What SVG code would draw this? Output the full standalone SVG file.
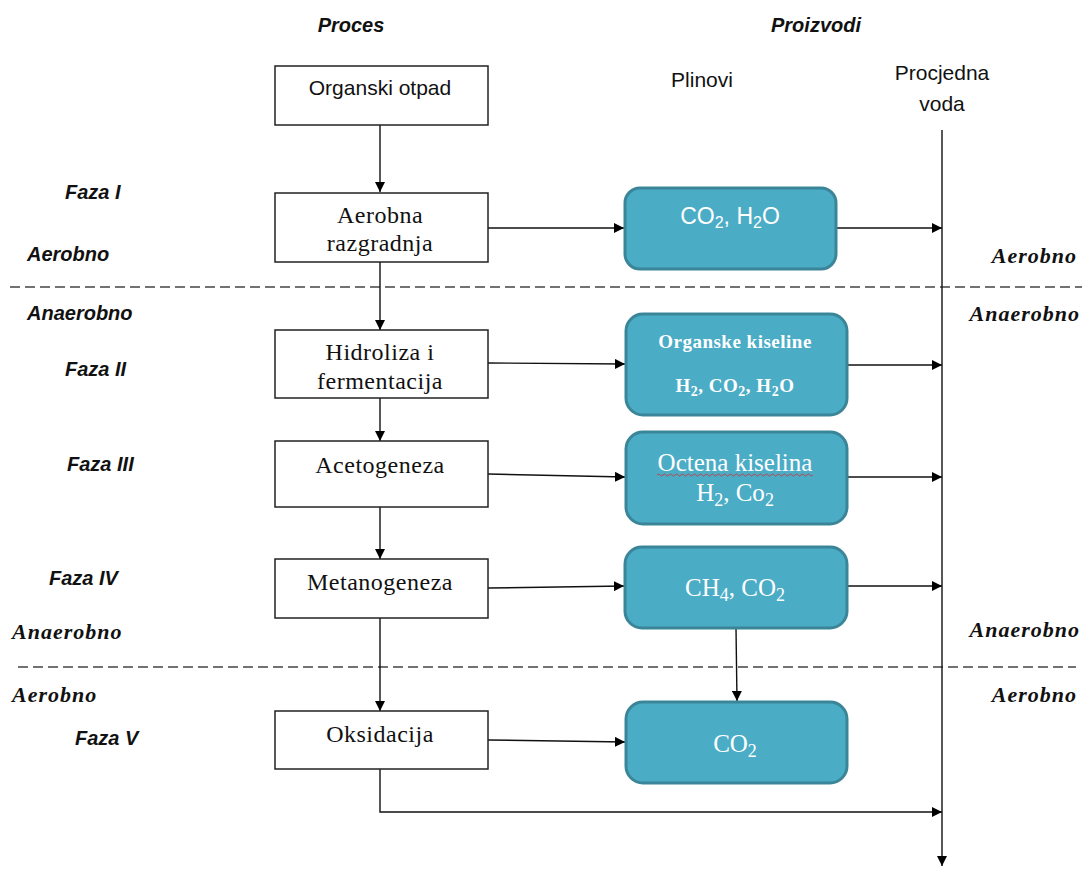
<svg xmlns="http://www.w3.org/2000/svg" width="1082" height="869" viewBox="0 0 1082 869">
<defs>
<marker id="ah" viewBox="0 0 10 10" refX="10" refY="5" markerWidth="10" markerHeight="10" markerUnits="userSpaceOnUse" orient="auto">
<path d="M0,0 L10,5 L0,10 z" fill="#000"/>
</marker>
<style>
.pbox{fill:#fff;stroke:#222;stroke-width:1.5}
.gbox{fill:#4BACC6;stroke:#3b8598;stroke-width:3}
.conn{fill:none;stroke:#111;stroke-width:1.4}
.dash{fill:none;stroke:#444;stroke-width:1.6;stroke-dasharray:10 5}
.hdr{font-family:"Liberation Sans",Arial,sans-serif;font-weight:bold;font-style:italic;font-size:20px;fill:#111}
.lbl{font-family:"Liberation Sans",Arial,sans-serif;font-weight:bold;font-style:italic;font-size:20px;fill:#111}
.slbl{font-family:"Liberation Serif","Times New Roman",serif;font-weight:bold;font-style:italic;font-size:22px;fill:#111;letter-spacing:1px}
.sans{font-family:"Liberation Sans",Arial,sans-serif;font-size:21px;fill:#111}
.ser{font-family:"Liberation Serif","Times New Roman",serif;font-size:24px;fill:#111;letter-spacing:0.5px}
.wt{font-family:"Liberation Serif","Times New Roman",serif;font-size:25px;fill:#fff}
.wtb{font-family:"Liberation Serif","Times New Roman",serif;font-size:19px;font-weight:bold;fill:#fff;letter-spacing:0.5px}
.wts{font-family:"Liberation Sans",Arial,sans-serif;font-size:23px;fill:#fff}
</style>
</defs>
<rect width="1082" height="869" fill="#fff"/>

<g id="headers">
<text class="hdr" x="351" y="32" text-anchor="middle">Proces</text>
<text class="hdr" x="816" y="32" text-anchor="middle">Proizvodi</text>
<text class="sans" x="702" y="87" text-anchor="middle">Plinovi</text>
<text class="sans" x="942" y="80" text-anchor="middle">Procjedna</text>
<text class="sans" x="942" y="111" text-anchor="middle">voda</text>
</g>

<g id="side-labels">
<text class="lbl" x="65" y="199">Faza I</text>
<text class="lbl" x="27" y="261">Aerobno</text>
<text class="lbl" x="27" y="320">Anaerobno</text>
<text class="lbl" x="65" y="376">Faza II</text>
<text class="lbl" x="67" y="471">Faza III</text>
<text class="lbl" x="49" y="585">Faza IV</text>
<text class="slbl" x="12" y="639">Anaerobno</text>
<text class="slbl" x="12" y="702">Aerobno</text>
<text class="lbl" x="75" y="745">Faza V</text>
<text class="slbl" x="1077" y="263" text-anchor="end">Aerobno</text>
<text class="slbl" x="1080" y="321" text-anchor="end">Anaerobno</text>
<text class="slbl" x="1080" y="637" text-anchor="end">Anaerobno</text>
<text class="slbl" x="1077" y="702" text-anchor="end">Aerobno</text>
</g>

<g id="dividers">
<line class="dash" x1="10" y1="287" x2="1082" y2="287"/>
<line class="dash" x1="18" y1="667" x2="1076" y2="667"/>
</g>

<g id="connectors">
<line class="conn" x1="380" y1="125" x2="380" y2="192" marker-end="url(#ah)"/>
<line class="conn" x1="380" y1="262" x2="380" y2="330" marker-end="url(#ah)"/>
<line class="conn" x1="380" y1="398" x2="380" y2="441" marker-end="url(#ah)"/>
<line class="conn" x1="380" y1="507" x2="380" y2="559" marker-end="url(#ah)"/>
<line class="conn" x1="380" y1="618" x2="380" y2="711" marker-end="url(#ah)"/>
<polyline class="conn" points="380,769 380,812 942,812" marker-end="url(#ah)"/>
<line class="conn" x1="488" y1="228" x2="624" y2="228" marker-end="url(#ah)"/>
<line class="conn" x1="836" y1="228" x2="942" y2="228" marker-end="url(#ah)"/>
<line class="conn" x1="488" y1="363" x2="625" y2="364" marker-end="url(#ah)"/>
<line class="conn" x1="847" y1="365" x2="942" y2="365" marker-end="url(#ah)"/>
<line class="conn" x1="488" y1="474" x2="625" y2="477" marker-end="url(#ah)"/>
<line class="conn" x1="847" y1="477" x2="942" y2="477" marker-end="url(#ah)"/>
<line class="conn" x1="488" y1="588" x2="624" y2="586" marker-end="url(#ah)"/>
<line class="conn" x1="847" y1="586" x2="942" y2="586" marker-end="url(#ah)"/>
<line class="conn" x1="488" y1="740" x2="625" y2="742" marker-end="url(#ah)"/>
<line class="conn" x1="736" y1="628" x2="737" y2="701" marker-end="url(#ah)"/>
<line class="conn" x1="942" y1="130" x2="942" y2="866" marker-end="url(#ah)"/>
</g>

<g id="organski-otpad">
<rect class="pbox" x="275" y="66" width="213" height="59"/>
<text class="sans" x="380" y="95" text-anchor="middle">Organski otpad</text>
</g>
<g id="aerobna-razgradnja">
<rect class="pbox" x="275" y="193" width="213" height="69"/>
<text class="ser" x="380" y="223" text-anchor="middle">Aerobna</text>
<text class="ser" x="380" y="251" text-anchor="middle">razgradnja</text>
</g>
<g id="hidroliza">
<rect class="pbox" x="275" y="330" width="213" height="68"/>
<text class="ser" x="380" y="360" text-anchor="middle">Hidroliza i</text>
<text class="ser" x="380" y="389" text-anchor="middle">fermentacija</text>
</g>
<g id="acetogeneza">
<rect class="pbox" x="275" y="441" width="213" height="66"/>
<text class="ser" x="380" y="473" text-anchor="middle">Acetogeneza</text>
</g>
<g id="metanogeneza">
<rect class="pbox" x="275" y="559" width="213" height="59"/>
<text class="ser" x="380" y="590" text-anchor="middle">Metanogeneza</text>
</g>
<g id="oksidacija">
<rect class="pbox" x="275" y="711" width="213" height="58"/>
<text class="ser" x="380" y="742" text-anchor="middle">Oksidacija</text>
</g>

<g id="p-co2-h2o">
<rect class="gbox" x="625" y="188" width="211" height="81" rx="15"/>
<text class="wts" x="730" y="224" text-anchor="middle">CO<tspan font-size="16" dy="4">2</tspan><tspan dy="-4">, H</tspan><tspan font-size="16" dy="4">2</tspan><tspan dy="-4">O</tspan></text>
</g>
<g id="p-organske">
<rect class="gbox" x="626" y="314" width="221" height="101" rx="17"/>
<text class="wtb" x="735" y="348" text-anchor="middle">Organske kiseline</text>
<text class="wtb" x="735" y="392" text-anchor="middle">H<tspan font-size="14" dy="4">2</tspan><tspan dy="-4">, CO</tspan><tspan font-size="14" dy="4">2</tspan><tspan dy="-4">, H</tspan><tspan font-size="14" dy="4">2</tspan><tspan dy="-4">O</tspan></text>
</g>
<g id="p-octena">
<rect class="gbox" x="626" y="432" width="221" height="92" rx="17"/>
<text class="wt" x="735" y="471" text-anchor="middle">Octena kiselina</text>
<path d="M657,475 q1.5,-2 3,0 t3,0 t3,0 t3,0 t3,0 t3,0 t3,0 t3,0 t3,0 t3,0 t3,0 t3,0 t3,0 t3,0 t3,0 t3,0 t3,0 t3,0 t3,0 t3,0 t3,0 t3,0 t3,0 t3,0 t3,0 t3,0 t3,0 t3,0 t3,0 t3,0 t3,0 t3,0 t3,0 t3,0 t3,0 t3,0 t3,0 t3,0 t3,0 t3,0 t3,0 t3,0 t3,0 t3,0 t3,0 t3,0 t3,0 t3,0 t3,0 t3,0 t3,0 t3,0" fill="none" stroke="#d03030" stroke-width="0.8"/>
<text class="wt" x="735" y="501" text-anchor="middle">H<tspan font-size="18" dy="5">2</tspan><tspan dy="-5">, Co</tspan><tspan font-size="18" dy="5">2</tspan></text>
</g>
<g id="p-ch4">
<rect class="gbox" x="625" y="547" width="222" height="81" rx="17"/>
<text class="wt" x="735" y="596" text-anchor="middle">CH<tspan font-size="18" dy="5">4</tspan><tspan dy="-5">, CO</tspan><tspan font-size="18" dy="5">2</tspan></text>
</g>
<g id="p-co2">
<rect class="gbox" x="626" y="702" width="221" height="81" rx="17"/>
<text class="wt" x="735" y="752" text-anchor="middle">CO<tspan font-size="18" dy="5">2</tspan></text>
</g>
</svg>
